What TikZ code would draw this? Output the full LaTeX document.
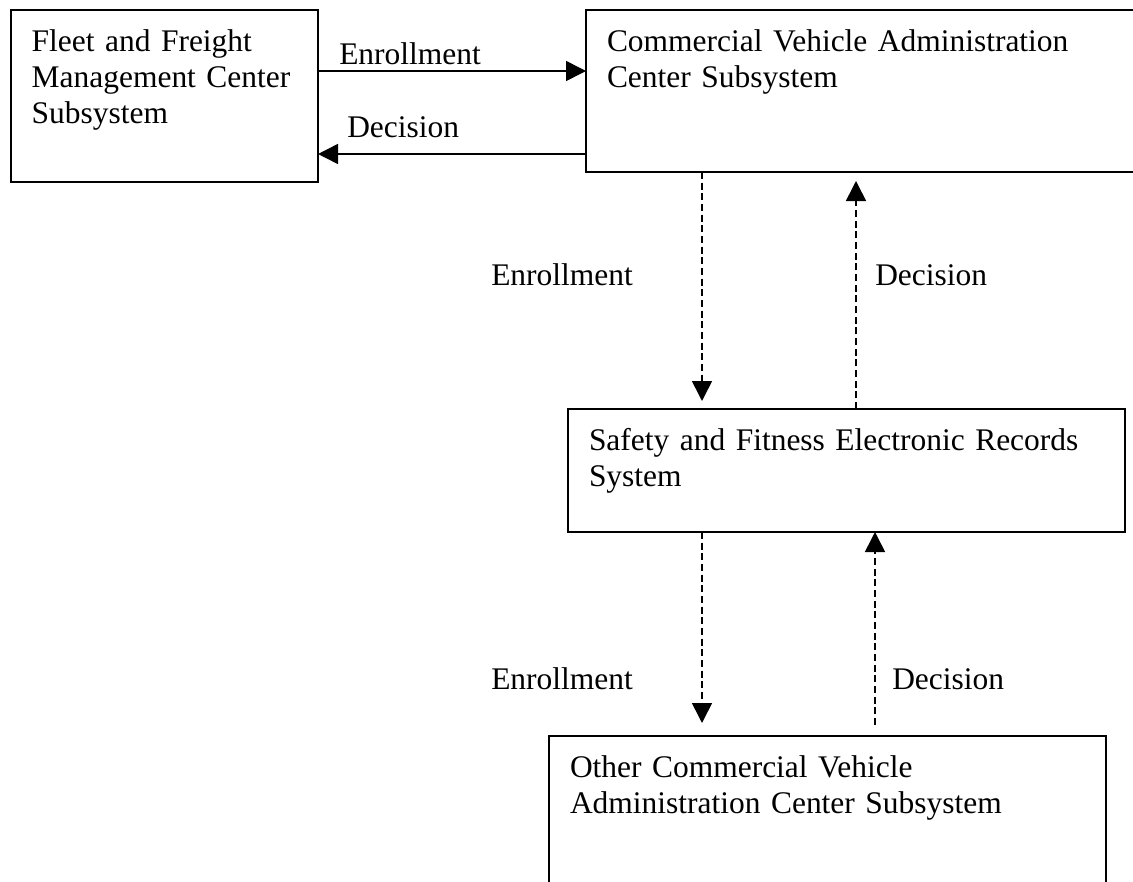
\documentclass[tikz,border=0pt]{standalone}
\usepackage{fontspec}
\setmainfont{Liberation Serif}
\usetikzlibrary{arrows.meta}
\tikzset{every picture/.style={x=0.75pt,y=-0.75pt,font=\fontsize{23.6}{27.2}\selectfont}}
\tikzset{block/.style={draw,line width=1.2pt,anchor=north west,align=left,outer sep=0pt,inner xsep=15.75pt,inner ysep=0pt,text height=30.75pt}}
\tikzset{link/.style={line width=1.2pt,-{Triangle[length=15pt,width=15pt]}}}
\tikzset{query/.style={link,dash pattern=on 5.25pt off 2.75pt}}
\tikzset{msg/.style={anchor=base west,inner sep=0pt}}

\begin{document}
\begin{tikzpicture}
\useasboundingbox (0,0) rectangle (1133,882);
\clip (0,0) rectangle (1133,882);
\node [block,text width=199pt,text depth=98.25pt] (fleet) at (10.7,10) {Fleet and Freight\\Management Center\\Subsystem};
\node [block,text width=391.5pt,text depth=90.75pt] (cvac) at (586,10) {Commercial Vehicle Administration\\Center Subsystem};
\node [block,text width=386.25pt,text depth=61.5pt] (safety) at (568,409) {Safety and Fitness Electronic Records\\System};
\node [block,text width=386.25pt,text depth=92.25pt] (other) at (549,736) {Other Commercial Vehicle\\Administration Center Subsystem};
\coordinate (rowA) at (0,71);
\coordinate (rowB) at (0,154);
\coordinate (colA) at (702,0);
\coordinate (colB) at (856,0);
\coordinate (colC) at (875,0);
\draw [link] (fleet.east |- rowA) -- (cvac.west |- rowA);
\draw [link] (cvac.west |- rowB) -- (fleet.east |- rowB);
\draw [query,shorten >=6pt] (cvac.south -| colA) -- (safety.north -| colA);
\draw [query,shorten >=6.75pt] (safety.north -| colB) -- (cvac.south -| colB);
\draw [query,shorten >=9.75pt] (safety.south -| colA) -- (other.north -| colA);
\draw [query,shorten <=8.25pt] (other.north -| colC) -- (safety.south -| colC);
\node [msg] (enrA) at (339,64) {Enrollment};
\node [msg] (decA) at (347,137) {Decision};
\node [msg] (enrB) at (491,285) {Enrollment};
\node [msg] (decB) at (875,285) {Decision};
\node [msg] (enrC) at (491,689) {Enrollment};
\node [msg] (decC) at (892,689) {Decision};
\end{tikzpicture}
\end{document}
